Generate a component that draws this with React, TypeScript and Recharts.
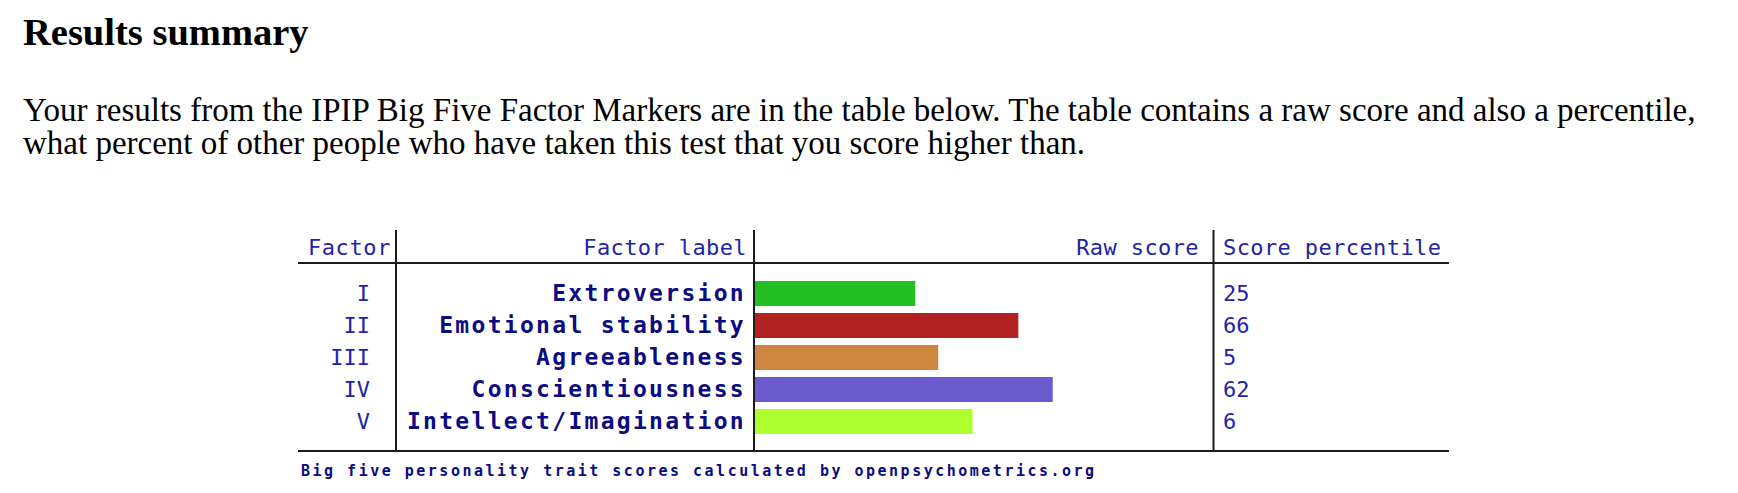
import React from 'react';
import { BarChart, Bar, XAxis, YAxis, Cell } from 'recharts';

// ---- data ----
const factors = ['I', 'II', 'III', 'IV', 'V'];
const labels = ['Extroversion', 'Emotional stability', 'Agreeableness', 'Conscientiousness', 'Intellect/Imagination'];
const rawScores = [14, 23, 16, 26, 19];
const percentiles = [25, 66, 5, 62, 6];
const barColors = ['#22c022', '#b22222', '#cd853f', '#6a5acd', '#adff2f'];
const headers = ['Factor', 'Factor label', 'Raw score', 'Score percentile'];
const rawMax = 40;

const title = 'Results summary';
const introLines = [
  'Your results from the IPIP Big Five Factor Markers are in the table below. The table contains a raw score and also a percentile,',
  'what percent of other people who have taken this test that you score higher than.',
];
const footer = 'Big five personality trait scores calculated by openpsychometrics.org';

const rows = labels.map((label, i) => ({
  factor: factors[i],
  label,
  raw: rawScores[i],
  percentile: percentiles[i],
}));

// ---- layout ----
const W = 1738;
const H = 493;
const TABLE_LEFT = 298;
const TABLE_RIGHT = 1449;
const COL1_X = 396;
const PLOT_LEFT = 755;
const PLOT_RIGHT = 1213;
const PLOT_TOP = 277;
const PLOT_BOTTOM = 437;
const LEFT_AXIS_W = 460;
const RIGHT_AXIS_W = TABLE_RIGHT - PLOT_RIGHT;
const RULE_TOP = 230;
const HEADER_RULE = 263;
const BOTTOM_RULE = 451;

const MONO = '"DejaVu Sans Mono", monospace';
const SERIF = '"Liberation Serif", "Times New Roman", serif';
const BLUE = '#2323a6';
const NAVY = '#0b0b82';
const RULE = '#1c1c1c';

const LeftTick = (props: any) => {
  const { x, y, payload } = props;
  const i = labels.indexOf(payload.value);
  return (
    <g>
      <text x={x - 385} y={y + 8} textAnchor="end" fontFamily={MONO} fontSize={22} fill={BLUE}>
        {factors[i]}
      </text>
      <text x={x - 9} y={y + 8} textAnchor="end" fontFamily={MONO} fontSize={23} fontWeight="bold" fill={NAVY} style={{ letterSpacing: '2.3px' }}>
        {payload.value}
      </text>
    </g>
  );
};

const RightTick = (props: any) => {
  const { x, y, payload } = props;
  const i = labels.indexOf(payload.value);
  return (
    <text x={x + 10} y={y + 8} textAnchor="start" fontFamily={MONO} fontSize={22} fill={BLUE}>
      {percentiles[i]}
    </text>
  );
};

export default function App() {
  return (
    <div style={{ position: 'absolute', left: 0, top: 0, width: W, height: H, background: '#fff' }}>
      <div style={{ position: 'absolute', left: 0, top: 0 }}>
        <BarChart
          width={W}
          height={H}
          data={rows}
          layout="vertical"
          margin={{ top: PLOT_TOP, bottom: H - PLOT_BOTTOM, left: PLOT_LEFT - LEFT_AXIS_W, right: W - PLOT_RIGHT - RIGHT_AXIS_W }}
          barSize={25}
        >
          <XAxis type="number" domain={[0, rawMax]} hide />
          <YAxis
            yAxisId="l"
            type="category"
            dataKey="label"
            width={LEFT_AXIS_W}
            axisLine={false}
            tickLine={false}
            tickSize={0}
            tickMargin={0}
            interval={0}
            tick={<LeftTick />}
          />
          <YAxis
            yAxisId="r"
            orientation="right"
            type="category"
            dataKey="label"
            width={RIGHT_AXIS_W}
            axisLine={false}
            tickLine={false}
            tickSize={0}
            tickMargin={0}
            interval={0}
            tick={<RightTick />}
          />
          <Bar yAxisId="l" dataKey="raw" isAnimationActive={false}>
            {rows.map((r, i) => (
              <Cell key={r.label} fill={barColors[i]} />
            ))}
          </Bar>
        </BarChart>
      </div>
      <svg width={W} height={H} style={{ position: 'absolute', left: 0, top: 0, pointerEvents: 'none' }}>
        <text x={23} y={45} fontFamily={SERIF} fontSize={38.5} fontWeight="bold" fill="#000">
          {title}
        </text>
        {introLines.map((line, i) => (
          <text key={i} x={23} y={120.7 + i * 33} fontFamily={SERIF} fontSize={33} fill="#000">
            {line}
          </text>
        ))}
        {/* table rules */}
        <line x1={TABLE_LEFT} x2={TABLE_RIGHT} y1={HEADER_RULE} y2={HEADER_RULE} stroke={RULE} strokeWidth={2} />
        <line x1={TABLE_LEFT} x2={TABLE_RIGHT} y1={BOTTOM_RULE} y2={BOTTOM_RULE} stroke={RULE} strokeWidth={2} />
        {[COL1_X, PLOT_LEFT - 1, PLOT_RIGHT + 0.5].map((x, i) => (
          <line key={i} x1={x} x2={x} y1={RULE_TOP} y2={BOTTOM_RULE} stroke={RULE} strokeWidth={2} />
        ))}
        {/* headers */}
        <text x={391} y={255} textAnchor="end" fontFamily={MONO} fontSize={22} fill={BLUE} style={{ letterSpacing: '0.6px' }}>{headers[0]}</text>
        <text x={747} y={255} textAnchor="end" fontFamily={MONO} fontSize={22} fill={BLUE} style={{ letterSpacing: '0.4px' }}>{headers[1]}</text>
        <text x={1199} y={255} textAnchor="end" fontFamily={MONO} fontSize={22} fill={BLUE} style={{ letterSpacing: '0.4px' }}>{headers[2]}</text>
        <text x={1223} y={255} textAnchor="start" fontFamily={MONO} fontSize={22} fill={BLUE} style={{ letterSpacing: '0.4px' }}>{headers[3]}</text>
        {/* footer */}
        <text x={301} y={476} fontFamily={MONO} fontSize={15} fontWeight="bold" fill={NAVY} style={{ letterSpacing: '2.5px' }}>
          {footer}
        </text>
      </svg>
    </div>
  );
}
